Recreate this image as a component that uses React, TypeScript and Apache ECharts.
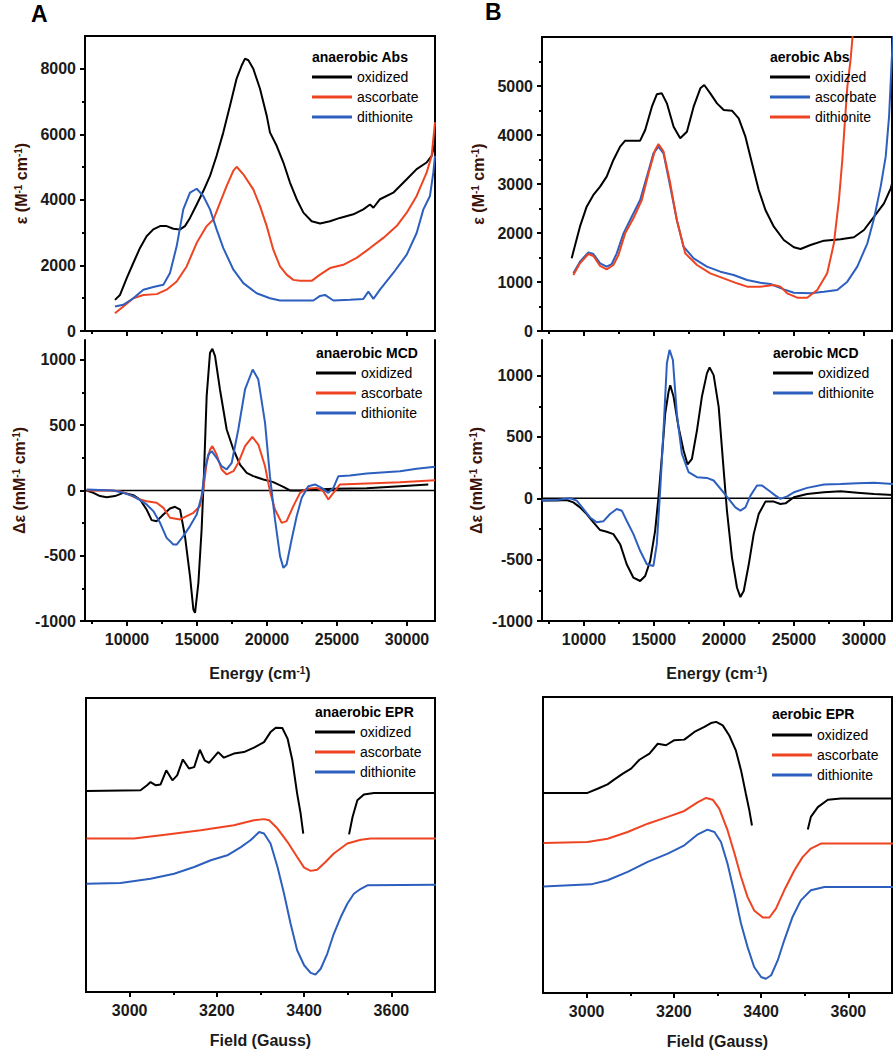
import React, { useEffect, useRef } from 'react';
import * as echarts from 'echarts';

type P = [number, number | null];

// ---------- tick / label values ----------
const energyLabels = [10000, 15000, 20000, 25000, 30000];
const energyMinor = [7500, 12500, 17500, 22500, 27500];
const fieldLabels = [3000, 3200, 3400, 3600];
const fieldMinor = [3100, 3300, 3500];
const absALabels = [0, 2000, 4000, 6000, 8000];
const absAMinor = [1000, 3000, 5000, 7000];
const absBLabels = [0, 1000, 2000, 3000, 4000, 5000];
const absBMinor = [500, 1500, 2500, 3500, 4500, 5500];
const mcdLabels = [-1000, -500, 0, 500, 1000];
const mcdMinor = [-750, -250, 250, 750];

// ---------- A: anaerobic absorption (energy cm-1, epsilon M-1 cm-1) ----------
const absA_oxidized: P[] = [[9140,950],[9500,1100],[9980,1615],[10450,2075],[10930,2535],[11400,2890],[11880,3100],[12360,3200],[12830,3200],[13310,3120],[13790,3100],[14140,3200],[14500,3450],[14980,3860],[15450,4270],[15930,4730],[16400,5345],[16880,6060],[17360,6880],[17830,7700],[18190,8100],[18430,8310],[18670,8260],[19020,8000],[19500,7390],[19980,6570],[20210,6060],[20690,5650],[21170,5140],[21640,4530],[22120,4020],[22600,3610],[23190,3350],[23790,3280],[24500,3350],[25210,3450],[26170,3560],[26880,3710],[27360,3860],[27600,3760],[28070,4020],[29020,4220],[29980,4630],[30690,4940],[31400,5140],[31760,5345],[32000,5750]];
const absA_ascorbate: P[] = [[9140,540],[9740,750],[10450,1000],[11170,1100],[12120,1125],[12830,1260],[13550,1510],[14260,1970],[14980,2690],[15690,3200],[16170,3400],[16640,3910],[17120,4430],[17600,4890],[17830,5010],[18310,4780],[19020,4320],[19500,3810],[19980,3200],[20450,2480],[20930,1970],[21400,1720],[21880,1560],[22360,1530],[23190,1530],[23790,1720],[24500,1920],[25450,2020],[26400,2230],[27360,2530],[28310,2840],[29260,3200],[29980,3610],[30690,4120],[31400,4830],[31760,5345],[32000,6370]];
const absA_dithionite: P[] = [[9140,750],[9740,800],[10450,1000],[11170,1260],[11880,1340],[12600,1410],[13070,1770],[13550,2590],[14020,3710],[14500,4220],[14980,4340],[15450,4120],[15930,3710],[16400,3100],[16880,2530],[17600,1870],[18310,1460],[19260,1150],[20210,1000],[20930,930],[22360,930],[23310,930],[23790,1070],[24140,1100],[24740,930],[25930,950],[26880,980],[27240,1200],[27600,980],[28070,1260],[29020,1770],[29980,2330],[30690,2990],[31170,3710],[31640,4120],[31880,4830],[32000,5345]];

// ---------- A: anaerobic MCD ----------
const mcdA_oxidized: P[] = [[7120,0],[7600,-18],[8070,-43],[8550,-51],[9140,-43],[9740,-18],[10450,-36],[10930,-69],[11400,-146],[11760,-227],[12120,-235],[12600,-184],[13070,-138],[13430,-125],[13790,-146],[14140,-350],[14500,-656],[14740,-912],[14860,-937],[15100,-707],[15330,-299],[15500,135],[15690,723],[15930,1055],[16100,1085],[16290,1030],[16640,774],[17120,467],[17600,314],[18070,199],[18550,135],[19020,110],[19740,84],[20450,64],[21170,28],[21640,0],[22360,0],[23550,8],[24740,13],[27120,18],[29500,33],[31520,46]];
const mcdA_ascorbate: P[] = [[7120,0],[8790,0],[9500,-5],[10210,-36],[10930,-69],[11400,-82],[12120,-94],[12600,-133],[13070,-209],[13790,-222],[14260,-197],[14740,-171],[15210,-120],[15450,8],[15690,212],[15930,314],[16100,340],[16400,276],[16760,161],[17120,123],[17600,148],[17950,212],[18430,340],[18950,411],[19380,352],[19860,186],[20210,-5],[20570,-146],[21050,-248],[21400,-235],[21880,-120],[22360,-18],[22830,13],[23550,20],[24020,-5],[24380,-69],[24740,-18],[25210,46],[27120,54],[29500,64],[32000,79]];
const mcdA_dithionite: P[] = [[7120,8],[9020,0],[9740,-18],[10450,-43],[10930,-74],[11400,-107],[11880,-158],[12360,-248],[12830,-363],[13310,-414],[13550,-414],[14020,-350],[14500,-273],[14980,-184],[15330,-43],[15570,161],[15810,276],[16050,301],[16400,250],[16760,186],[17120,161],[17480,212],[17950,467],[18430,774],[18980,927],[19380,850],[19860,518],[20210,110],[20570,-222],[20930,-503],[21170,-593],[21400,-567],[21760,-375],[22120,-197],[22480,-56],[22950,33],[23430,46],[23900,20],[24380,-18],[24740,20],[25100,110],[25930,115],[27120,130],[29500,148],[30690,166],[32000,181]];

// ---------- A: anaerobic EPR (field G, relative intensity) ----------
const eprA_oxidized: P[] = [[2901,68.4],[3025,68.6],[3040,70.3],[3048,71.4],[3060,70.3],[3071,70.6],[3084,75.4],[3098,72.0],[3109,73.7],[3122,79.1],[3136,76.0],[3148,76.5],[3161,82.4],[3172,78.8],[3182,77.9],[3203,81.6],[3216,79.7],[3239,81.1],[3262,81.6],[3285,83.1],[3308,85.0],[3323,88.4],[3335,89.9],[3350,89.8],[3362,86.2],[3373,78.8],[3384,67.5],[3392,60.7],[3398,53.9],[3450,null],[3503,53.6],[3511,59.5],[3522,65.2],[3537,67.2],[3560,67.7],[3702,67.7]];
const eprA_ascorbate: P[] = [[2901,52.2],[3010,52.2],[3086,53.6],[3163,55.0],[3239,56.7],[3285,58.4],[3308,58.8],[3320,58.4],[3339,55.6],[3362,51.0],[3384,45.9],[3400,42.3],[3415,41.2],[3430,41.6],[3449,44.2],[3468,47.1],[3499,50.5],[3530,51.8],[3553,52.2],[3702,52.2]];
const eprA_dithionite: P[] = [[2901,36.8],[2979,37.1],[3048,38.5],[3102,40.2],[3148,42.5],[3186,44.8],[3224,46.5],[3255,49.3],[3277,51.6],[3297,54.4],[3308,53.9],[3323,50.5],[3339,42.5],[3354,33.4],[3369,23.2],[3384,14.2],[3400,9.1],[3415,6.5],[3426,5.9],[3438,7.9],[3453,13.0],[3468,19.8],[3484,25.5],[3499,30.0],[3514,33.4],[3530,35.1],[3545,36.3],[3702,36.5]];

// ---------- B: aerobic absorption ----------
const absB_oxidized: P[] = [[9120,1483],[9240,1619],[9710,2129],[10190,2537],[10670,2776],[11150,2946],[11620,3150],[12100,3490],[12580,3762],[12940,3884],[14010,3884],[14370,4102],[14850,4578],[15200,4830],[15560,4850],[15920,4646],[16400,4170],[16870,3932],[17350,4068],[17830,4578],[18310,4953],[18590,5020],[19020,4850],[19500,4646],[19980,4510],[20570,4497],[21050,4340],[21530,3966],[22000,3422],[22480,2878],[22960,2470],[23560,2129],[24270,1857],[24990,1708],[25470,1674],[26180,1755],[27140,1844],[28330,1871],[29280,1912],[30000,2061],[30720,2333],[31430,2606],[31910,2912],[32080,3082]];
const absB_ascorbate: P[] = [[9240,1177],[9710,1415],[10310,1605],[10670,1571],[11150,1381],[11620,1313],[11980,1367],[12340,1585],[12820,1993],[13410,2333],[14010,2674],[14490,3150],[14960,3626],[15320,3762],[15680,3626],[16160,2946],[16630,2265],[17110,1721],[17830,1483],[18780,1313],[19740,1211],[20690,1143],[21650,1041],[22600,986],[23320,959],[24270,850],[24990,782],[26180,769],[27140,803],[28090,837],[28810,1007],[29520,1313],[30240,1789],[30720,2299],[31190,2946],[31550,3558],[31790,4374],[31960,5395],[32080,6100]];
const absB_dithionite: P[] = [[9240,1143],[9710,1381],[10310,1571],[10670,1531],[11150,1327],[11620,1259],[12100,1347],[12460,1551],[12940,1993],[13530,2299],[14130,2674],[14610,3218],[15080,3694],[15320,3816],[15680,3660],[16160,3014],[16630,2265],[17230,1585],[18070,1347],[19020,1177],[19980,1075],[20930,973],[21650,905],[22600,905],[23560,939],[24030,905],[24510,769],[25230,680],[25940,680],[26660,837],[27370,1177],[27850,1789],[28210,2674],[28450,3490],[28610,4170],[28810,4987],[29040,5531],[29210,6100]];

// ---------- B: aerobic MCD ----------
const mcdB_oxidized: P[] = [[6970,-19],[8040,-19],[8760,-14],[9240,-33],[9710,-74],[10190,-128],[10670,-196],[11150,-259],[11620,-273],[12100,-292],[12580,-374],[13050,-538],[13530,-647],[14010,-674],[14370,-633],[14730,-510],[15080,-265],[15320,8],[15560,336],[15800,690],[16040,868],[16160,922],[16400,827],[16750,581],[17110,390],[17400,276],[17710,322],[18070,554],[18420,827],[18780,1018],[18970,1067],[19260,1004],[19620,745],[19980,226],[20210,-101],[20570,-483],[20930,-729],[21170,-805],[21410,-756],[21770,-538],[22120,-292],[22480,-128],[22960,-27],[23560,-27],[24030,-46],[24390,-41],[24990,8],[25940,35],[27140,49],[28330,57],[29520,46],[30720,35],[32080,27]];
const mcdB_dithionite: P[] = [[6970,-19],[8040,-14],[9000,0],[9480,-19],[9950,-87],[10430,-156],[10910,-196],[11380,-188],[11860,-128],[12340,-87],[12700,-101],[13050,-183],[13530,-292],[14010,-428],[14490,-538],[14960,-551],[15200,-374],[15440,63],[15680,554],[15920,1100],[16110,1209],[16350,1127],[16630,690],[16990,363],[17470,213],[18070,172],[18780,166],[19260,145],[19860,63],[20330,-5],[20810,-74],[21170,-101],[21530,-74],[21890,22],[22360,104],[22720,104],[23200,63],[23680,22],[24030,-5],[24510,16],[24990,49],[25940,85],[27140,112],[28330,117],[29520,123],[30720,126],[32080,117]];

// ---------- B: aerobic EPR ----------
const eprB_oxidized: P[] = [[2901,67.6],[3002,67.6],[3025,69.0],[3048,70.5],[3063,72.1],[3083,74.1],[3102,75.8],[3121,78.8],[3144,80.9],[3163,84.2],[3182,83.7],[3201,85.4],[3224,85.6],[3247,88.2],[3270,89.9],[3285,91.2],[3297,91.6],[3312,90.4],[3327,87.0],[3342,82.0],[3354,75.2],[3365,67.3],[3373,61.7],[3379,56.6],[3440,null],[3507,55.2],[3514,59.5],[3530,62.8],[3553,65.3],[3583,65.7],[3703,65.7]];
const eprB_ascorbate: P[] = [[2901,50.7],[3002,51.0],[3048,52.1],[3094,54.4],[3140,57.2],[3186,59.5],[3224,61.5],[3255,64.5],[3274,65.9],[3289,65.3],[3304,62.3],[3323,55.0],[3339,47.1],[3354,39.2],[3369,32.4],[3384,27.9],[3404,25.5],[3419,25.5],[3434,28.5],[3453,34.7],[3476,41.4],[3495,45.9],[3514,48.8],[3537,50.5],[3583,50.5],[3703,50.5]];
const eprB_dithionite: P[] = [[2901,36.0],[3010,36.7],[3048,38.1],[3094,40.9],[3140,44.3],[3186,47.1],[3224,49.9],[3255,53.6],[3277,55.2],[3293,54.4],[3308,51.0],[3323,43.7],[3339,33.6],[3354,23.4],[3369,15.5],[3384,8.8],[3400,5.4],[3411,4.8],[3423,6.0],[3438,11.0],[3453,17.8],[3472,25.7],[3491,31.3],[3514,34.7],[3545,35.8],[3703,35.8]];

const zeroLine: P[] = [[7000, 0], [32000, 0]];

const FONT = '"Liberation Sans", Arial, Helvetica, sans-serif';
const RED = '#ee4422';
const BLUE = '#2d5fbf';
const BLACK = '#000000';
const LABEL_COLOR = '#1a1a1a';
const TITLE_COLOR = '#3b1208';

function buildOption() {
  const grids = [
    { left: 85, top: 36, width: 350, height: 295, border: true },   // A Abs
    { left: 85, top: 340, width: 350, height: 281, border: false }, // A MCD
    { left: 86, top: 698, width: 349, height: 294, border: true },  // A EPR
    { left: 542, top: 37, width: 350, height: 294, border: true },  // B Abs
    { left: 542, top: 340, width: 350, height: 281, border: false },// B MCD
    { left: 543, top: 697, width: 349, height: 296, border: true }, // B EPR
  ];
  const grid = grids.map((g) => ({
    left: g.left, top: g.top, width: g.width, height: g.height,
    show: g.border, borderColor: '#000', borderWidth: 2, backgroundColor: 'transparent',
  }));

  const xAxis: any[] = [];
  const yAxis: any[] = [];
  const lineAxis = { show: true, onZero: false, lineStyle: { color: '#000', width: 2 } };
  const labelStyle = {
    fontFamily: FONT, fontSize: 16, fontWeight: 'bold', color: LABEL_COLOR,
    formatter: (v: number) => String(v),
  };
  const sup = { fontSize: 10, fontWeight: 'bold', verticalAlign: 'top', fontFamily: FONT };

  function addX(gi: number, min: number, max: number, labels: number[], minor: number[], showLabels: boolean, name?: string, nameGap?: number) {
    xAxis.push({
      type: 'value', gridIndex: gi, min, max, position: 'bottom',
      axisLine: lineAxis, splitLine: { show: false },
      axisTick: { show: true, inside: false, length: 5, customValues: labels, lineStyle: { color: '#000', width: 2 } },
      axisLabel: { show: showLabels, customValues: labels, margin: 10, ...labelStyle },
      name: name || '', nameLocation: 'middle', nameGap: nameGap || 0,
      nameTextStyle: { fontFamily: FONT, fontSize: 16, fontWeight: 'bold', color: LABEL_COLOR, rich: { sup } },
    });
    const main = xAxis.length - 1;
    xAxis.push({
      type: 'value', gridIndex: gi, min, max, position: 'bottom',
      axisLine: { show: false, onZero: false }, splitLine: { show: false },
      axisTick: { show: true, inside: false, length: 3, customValues: minor, lineStyle: { color: '#000', width: 2 } },
      axisLabel: { show: false },
    });
    return main;
  }
  function addY(gi: number, min: number, max: number, labels: number[], minor: number[], name: string, nameGap: number) {
    yAxis.push({
      type: 'value', gridIndex: gi, min, max, position: 'left',
      axisLine: lineAxis, splitLine: { show: false },
      axisTick: { show: true, inside: false, length: 5, customValues: labels, lineStyle: { color: '#000', width: 2 } },
      axisLabel: { show: true, customValues: labels, margin: 9, ...labelStyle },
      name, nameLocation: 'middle', nameGap,
      nameTextStyle: { fontFamily: FONT, fontSize: 16, fontWeight: 'bold', color: TITLE_COLOR, rich: { sup } },
    });
    const main = yAxis.length - 1;
    yAxis.push({
      type: 'value', gridIndex: gi, min, max, position: 'left',
      axisLine: { show: false, onZero: false }, splitLine: { show: false },
      axisTick: { show: true, inside: false, length: 3, customValues: minor, lineStyle: { color: '#000', width: 2 } },
      axisLabel: { show: false },
    });
    return main;
  }
  function addRightBorder(gi: number, min: number, max: number) {
    yAxis.push({
      type: 'value', gridIndex: gi, min, max, position: 'right',
      axisLine: lineAxis, axisTick: { show: false }, axisLabel: { show: false }, splitLine: { show: false },
    });
  }
  function addHiddenY(gi: number) {
    yAxis.push({ type: 'value', gridIndex: gi, min: 0, max: 100, show: false });
    return yAxis.length - 1;
  }

  const epsName = 'ε (M{sup|-1} cm{sup|-1})';
  const mcdName = 'Δε (mM{sup|-1} cm{sup|-1})';
  const energyName = 'Energy (cm{sup|-1})';
  const fieldName = 'Field (Gauss)';

  // A
  const xAAbs = addX(0, 7000, 32000, energyLabels, energyMinor, false);
  const yAAbs = addY(0, 0, 9000, absALabels, absAMinor, epsName, 56);
  const xAMcd = addX(1, 7000, 32000, energyLabels, energyMinor, true, energyName, 44);
  const yAMcd = addY(1, -1000, 1153, mcdLabels, mcdMinor, mcdName, 58);
  addRightBorder(1, -1000, 1153);
  const xAEpr = addX(2, 2900, 3700, fieldLabels, fieldMinor, true, fieldName, 40);
  const yAEpr = addHiddenY(2);
  // B
  const xBAbs = addX(3, 7000, 32000, energyLabels, energyMinor, false);
  const yBAbs = addY(3, 0, 6000, absBLabels, absBMinor, epsName, 56);
  const xBMcd = addX(4, 7000, 32000, energyLabels, energyMinor, true, energyName, 44);
  const yBMcd = addY(4, -1000, 1290, mcdLabels, mcdMinor, mcdName, 58);
  addRightBorder(4, -1000, 1290);
  const xBEpr = addX(5, 2900, 3700, fieldLabels, fieldMinor, true, fieldName, 40);
  const yBEpr = addHiddenY(5);

  const line = (name: string, data: P[], color: string, xi: number, yi: number, width = 2) => ({
    type: 'line', name, data, xAxisIndex: xi, yAxisIndex: yi,
    showSymbol: false, symbol: 'none', connectNulls: false, silent: true,
    lineStyle: { color, width }, itemStyle: { color }, z: 3,
  });

  const series = [
    line('A-Abs|oxidized', absA_oxidized, BLACK, xAAbs, yAAbs),
    line('A-Abs|ascorbate', absA_ascorbate, RED, xAAbs, yAAbs),
    line('A-Abs|dithionite', absA_dithionite, BLUE, xAAbs, yAAbs),
    line('A-MCD|zero', zeroLine, BLACK, xAMcd, yAMcd, 1.6),
    line('A-MCD|oxidized', mcdA_oxidized, BLACK, xAMcd, yAMcd),
    line('A-MCD|ascorbate', mcdA_ascorbate, RED, xAMcd, yAMcd),
    line('A-MCD|dithionite', mcdA_dithionite, BLUE, xAMcd, yAMcd),
    line('A-EPR|oxidized', eprA_oxidized, BLACK, xAEpr, yAEpr),
    line('A-EPR|ascorbate', eprA_ascorbate, RED, xAEpr, yAEpr),
    line('A-EPR|dithionite', eprA_dithionite, BLUE, xAEpr, yAEpr),
    line('B-Abs|oxidized', absB_oxidized, BLACK, xBAbs, yBAbs),
    line('B-Abs|ascorbate', absB_ascorbate, BLUE, xBAbs, yBAbs),
    line('B-Abs|dithionite', absB_dithionite, RED, xBAbs, yBAbs),
    line('B-MCD|zero', zeroLine, BLACK, xBMcd, yBMcd, 1.6),
    line('B-MCD|oxidized', mcdB_oxidized, BLACK, xBMcd, yBMcd),
    line('B-MCD|dithionite', mcdB_dithionite, BLUE, xBMcd, yBMcd),
    line('B-EPR|oxidized', eprB_oxidized, BLACK, xBEpr, yBEpr),
    line('B-EPR|ascorbate', eprB_ascorbate, RED, xBEpr, yBEpr),
    line('B-EPR|dithionite', eprB_dithionite, BLUE, xBEpr, yBEpr),
  ];

  const legendBase = {
    orient: 'vertical', itemWidth: 40, itemHeight: 3, itemGap: 6, icon: 'rect',
    selectedMode: false, padding: 0,
    textStyle: { fontFamily: FONT, fontSize: 14, color: '#000' },
    formatter: (n: string) => n.split('|')[1],
  };
  const legend = [
    { ...legendBase, left: 312, top: 70, data: ['A-Abs|oxidized', 'A-Abs|ascorbate', 'A-Abs|dithionite'] },
    { ...legendBase, left: 316, top: 366, data: ['A-MCD|oxidized', 'A-MCD|ascorbate', 'A-MCD|dithionite'] },
    { ...legendBase, left: 315, top: 725, data: ['A-EPR|oxidized', 'A-EPR|ascorbate', 'A-EPR|dithionite'] },
    { ...legendBase, left: 770, top: 70, data: ['B-Abs|oxidized', 'B-Abs|ascorbate', 'B-Abs|dithionite'] },
    { ...legendBase, left: 773, top: 366, data: ['B-MCD|oxidized', 'B-MCD|dithionite'] },
    { ...legendBase, left: 772, top: 728, data: ['B-EPR|oxidized', 'B-EPR|ascorbate', 'B-EPR|dithionite'] },
  ];

  const panelTitle = (text: string, left: number, top: number) => ({
    text, left, top, padding: 0,
    textStyle: { fontFamily: FONT, fontSize: 14, fontWeight: 'bold', color: '#000' },
  });
  const title = [
    { text: 'A', left: 31, top: 2, padding: 0, textStyle: { fontFamily: FONT, fontSize: 23, fontWeight: 'bold', color: '#000' } },
    { text: 'B', left: 485, top: 0, padding: 0, textStyle: { fontFamily: FONT, fontSize: 23, fontWeight: 'bold', color: '#000' } },
    panelTitle('anaerobic Abs', 312, 50),
    panelTitle('anaerobic MCD', 316, 346),
    panelTitle('anaerobic EPR', 315, 705),
    panelTitle('aerobic Abs', 770, 50),
    panelTitle('aerobic MCD', 773, 346),
    panelTitle('aerobic EPR', 772, 707),
  ];

  return {
    animation: false,
    backgroundColor: '#ffffff',
    textStyle: { fontFamily: FONT },
    title, legend, grid, xAxis, yAxis, series,
  };
}

export default function App() {
  const ref = useRef<HTMLDivElement>(null);
  useEffect(() => {
    if (!ref.current) return;
    const chart = echarts.init(ref.current, undefined, { renderer: 'svg' });
    chart.setOption(buildOption() as any);
    return () => chart.dispose();
  }, []);
  return (
    <div
      ref={ref}
      style={{ position: 'absolute', left: 0, top: 0, width: 894, height: 1050, background: '#fff' }}
    />
  );
}
